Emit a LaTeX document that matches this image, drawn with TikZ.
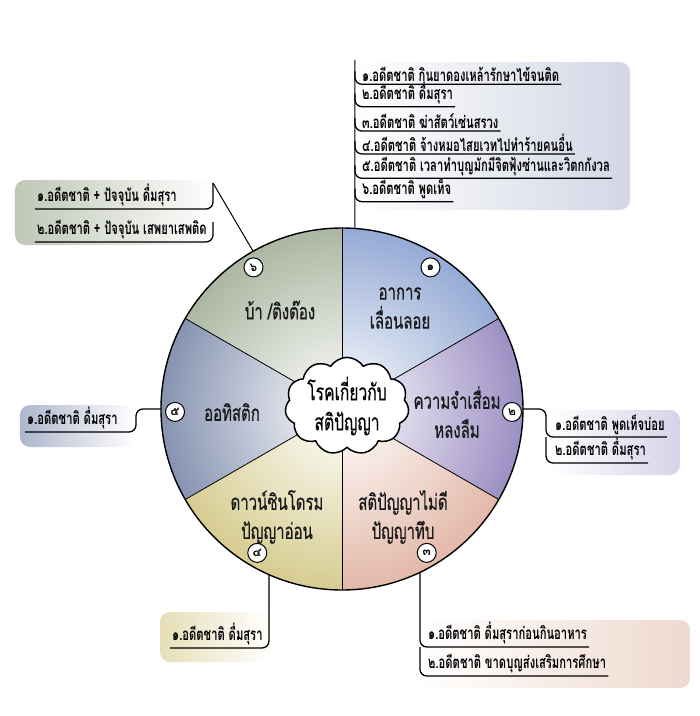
\documentclass[tikz,border=0pt]{standalone}
\usepackage{fontspec}
\newfontfamily\thai[Script=Thai]{Loma}
\newfontfamily\thain[Script=Thai,FakeStretch=0.68,FakeBold=0.4]{Loma}
\newfontfamily\thaik[Script=Thai,FakeStretch=0.66]{Loma}
\usepackage{tikz}
\usetikzlibrary{shapes.symbols,calc}
\definecolor{blc}{HTML}{6A88C4}
\definecolor{puc}{HTML}{7462AC}
\definecolor{sac}{HTML}{D89C86}
\definecolor{olc}{HTML}{C6B864}
\definecolor{slc}{HTML}{566892}
\definecolor{grc}{HTML}{8A9A7C}
\definecolor{pblc}{HTML}{D3D7E5}
\definecolor{ppuc}{HTML}{D8D2E8}
\definecolor{psac}{HTML}{EED9CD}
\definecolor{polc}{HTML}{E6DEB6}
\definecolor{pslc}{HTML}{AEB6CC}
\definecolor{pgrc}{HTML}{BFC7B6}
\tikzset{
  sect/.style={font=\thain\fontsize{22}{29}\selectfont,align=center,text=black!90},
  cloudc/.style={cloud,cloud puffs=11,cloud puff arc=115,aspect=1.35,draw,line width=1.5pt,fill=white,
    minimum width=124pt,minimum height=94pt,inner sep=0pt,font=\thain\fontsize{23}{30}\selectfont,align=center},
  num/.style={circle,draw,line width=1pt,fill=white,minimum size=19pt,inner sep=0pt,font=\thai\bfseries\fontsize{12}{12}\selectfont},
  itm/.style={font=\thaik\bfseries\fontsize{17}{19}\selectfont,inner xsep=2pt,inner ysep=2.5pt,anchor=south west},
  brk/.style={line width=1.3pt,rounded corners=7pt},
  lnk/.style={line width=1pt},
  panel/.style={rounded corners=10pt},
}
\newcommand{\itm}[3]{\node[itm] (#1) at (#2) {#3};}
\def\R{181}

\begin{document}
\begin{tikzpicture}[x=1pt,y=1pt]
  \useasboundingbox (-342,-307) rectangle (358,409);
  % panels behind the lists
  \shade[panel,left color=white,right color=pblc] (13,347) rectangle (288,199);
  \shade[panel,left color=pgrc,right color=white] (-327,229) rectangle (-127,164);
  \shade[panel,left color=white,right color=ppuc] (206,-1) rectangle (338,-66);
  \shade[panel,left color=pslc,right color=white] (-322,4) rectangle (-207,-38);
  \shade[panel,left color=polc,right color=white] (-182,-203) rectangle (-72,-253);
  \shade[panel,left color=white,right color=psac] (78,-211) rectangle (348,-279);
  % wheel
  \foreach \a/\c in {30/blc,90/grc,150/slc,210/olc,270/sac,330/puc}{
    \begin{scope}
      \clip (0,0) -- (\a:\R) arc (\a:\a+60:\R) -- cycle;
      \shade[inner color=white,outer color=\c] (0,0) circle[radius=1.4*\R];
    \end{scope}
  }
  \foreach \a in {30,90,...,330} \draw[line width=0.8pt] (0,0) -- (\a:\R);
  \draw[line width=1.4pt] (0,0) circle[radius=\R];
  \node[cloudc] (hub) at (5,3) {โรคเกี่ยวกับ\\สติปัญญา};
  \node[sect] (s1) at (58,101) {อาการ\\เลื่อนลอย};
  \node[sect] (s2) at (115,-3) {ความจำเสื่อม\\หลงลืม};
  \node[sect] (s3) at (61,-108) {สติปัญญาไม่ดี\\ปัญญาทึบ};
  \node[sect] (s4) at (-65,-108) {ดาวน์ซินโดรม\\ปัญญาอ่อน};
  \node[sect] (s5) at (-110,-3) {ออทิสติก};
  \node[sect] (s6) at (-62,99) {บ้า /ติงต๊อง};
  \node[num] (n1) at (58:167) {๑};
  \node[num] (n2) at (-1:170) {๒};
  \node[num] (n3) at (-59.5:167) {๓};
  \node[num] (n4) at (-120.5:167) {๔};
  \node[num] (n5) at (181:167) {๕};
  \node[num] (n6) at (122:167) {๖};
  % 1: top right
  \coordinate (t1) at (13,349);
  \coordinate (t1e) at (85.9:\R);
  \draw[lnk] (t1) -- (t1e);
  \itm{a1}{18,324.7}{๑.อดีตชาติ กินยาดองเหล้ารักษาไข้จนติด}
  \itm{a2}{18,302.3}{๒.อดีตชาติ ดื่มสุรา}
  \itm{a3}{18,278}{๓.อดีตชาติ ฆ่าสัตว์เซ่นสรวง}
  \itm{a4}{18,255}{๔.อดีตชาติ จ้างหมอไสยเวทไปทำร้ายคนอื่น}
  \itm{a5}{18,230.7}{๕.อดีตชาติ เวลาทำบุญมักมีจิตฟุ้งซ่านและวิตกกังวล}
  \itm{a6}{18,207.3}{๖.อดีตชาติ พูดเท็จ}
  \foreach \n in {a1,a2,a3,a4,a5,a6}
    \draw[brk] ($(t1|-\n.south)+(0,13)$) |- (\n.south east);
  % 6: top left
  \coordinate (t6) at (-129,226);
  \draw[lnk] (t6) -- (119.4:\R);
  \itm{f1}{-307,200}{๑.อดีตชาติ + ปัจจุบัน ดื่มสุรา}
  \itm{f2}{-307,167}{๒.อดีตชาติ + ปัจจุบัน เสพยาเสพติด}
  \draw[brk] (t6) |- (f1.south west);
  \draw[brk] ($(t6|-f2.south)+(0,20)$) |- (f2.south west);
  % 2: right
  \coordinate (t2) at (204,0);
  \itm{b1}{211,-28}{๑.อดีตชาติ พูดเท็จบ่อย}
  \itm{b2}{211,-54}{๒.อดีตชาติ ดื่มสุรา}
  \draw[brk] (0:\R) -- (t2) |- (b1.south east);
  \draw[brk] (t2|-b1.south) |- (b2.south east);
  % 5: left
  \coordinate (t5) at (-206,0);
  \itm{e1}{-317,-23}{๑.อดีตชาติ ดื่มสุรา}
  \draw[brk] (180:\R) -- (t5) |- (e1.south west);
  % 4: bottom left
  \coordinate (t4) at (246.2:\R);
  \itm{d1}{-172,-239}{๑.อดีตชาติ ดื่มสุรา}
  \draw[brk] (t4) |- (d1.south west);
  % 3: bottom right
  \coordinate (t3) at (295.5:\R);
  \itm{c1}{84,-238}{๑.อดีตชาติ ดื่มสุราก่อนกินอาหาร}
  \itm{c2}{84,-267}{๒.อดีตชาติ ขาดบุญส่งเสริมการศึกษา}
  \draw[brk] (t3) |- (c1.south east);
  \draw[brk] (t3|-c1.south) |- (c2.south east);
\end{tikzpicture}
\end{document}
